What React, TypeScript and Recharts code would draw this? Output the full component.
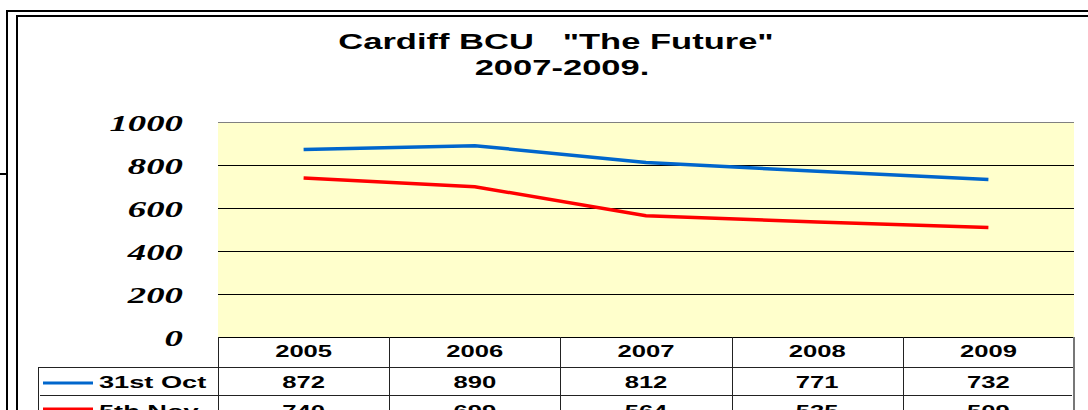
import React from 'react'
import {
  LineChart, Line, XAxis, YAxis, CartesianGrid, ReferenceLine, Customized,
} from 'recharts'

const YEARS = ['2005', '2006', '2007', '2008', '2009']
const OCT_31 = [872, 890, 812, 771, 732]
const NOV_5 = [740, 699, 564, 535, 509]
const Y_TICKS = [0, 200, 400, 600, 800, 1000]

const SERIES = [
  { key: 'oct', name: '31st Oct', color: '#0066CC', values: OCT_31 },
  { key: 'nov', name: '5th Nov', color: '#FF0000', values: NOV_5 },
]

const data = YEARS.map((year, i) => ({ year, oct: OCT_31[i], nov: NOV_5[i] }))

const W = 1088
const H = 410
const PLOT_LEFT = 218
const PLOT_RIGHT = 1074
const PLOT_TOP = 122
const PLOT_BOTTOM = 337
const BAND = (PLOT_RIGHT - PLOT_LEFT) / YEARS.length
const Y_AXIS_W = 60
const ROW1 = 367
const ROW2 = 395
const STRETCH = 1.6

const SANS = '"Liberation Sans", Arial, sans-serif'
const SERIF = '"Liberation Serif", "Times New Roman", serif'

// the source picture is stretched sideways, so all text gets scaleX
function Wide({ x, y, anchor = 'middle', size = 16, family = SANS, italic = false, sx = STRETCH, children }: any) {
  return (
    <text
      transform={`translate(${x} ${y}) scale(${sx} 1)`}
      textAnchor={anchor}
      fontFamily={family}
      fontSize={size}
      fontWeight="bold"
      fontStyle={italic ? 'italic' : 'normal'}
      fill="#000"
      style={{ whiteSpace: 'pre' }}
    >
      {children}
    </text>
  )
}

const ValueTick = (props: any) => {
  const { y, payload } = props
  return (
    <Wide x={PLOT_LEFT - 35} y={y + 9} anchor="end" size={23} family={SERIF} italic>
      {payload.value}
    </Wide>
  )
}

const YearColumn = (props: any) => {
  const { x, payload } = props
  const i = YEARS.indexOf(String(payload.value))
  const left = Math.round(x - BAND / 2)
  const right = Math.round(x + BAND / 2)
  return (
    <g shapeRendering="crispEdges">
      <line x1={left} x2={left} y1={PLOT_BOTTOM} y2={H + 20} stroke="#222" />
      {i === YEARS.length - 1 && (
        <line x1={right} x2={right} y1={PLOT_BOTTOM} y2={H + 20} stroke="#777" strokeWidth={2} />
      )}
      <Wide x={x} y={357}>{payload.value}</Wide>
      {SERIES.map((s, r) => (
        <Wide key={s.key} x={x} y={388 + r * 29}>{s.values[i]}</Wide>
      ))}
    </g>
  )
}

const Frame = () => (
  <g>
    <g shapeRendering="crispEdges">
      <rect x={7} y={11} width={1100} height={430} fill="none" stroke="#000" strokeWidth={1.5} />
      <rect x={17} y={16} width={1100} height={430} fill="none" stroke="#000" strokeWidth={1.5} />
      <line x1={0} x2={7} y1={174} y2={174} stroke="#000" strokeWidth={2} />
      <line x1={38} x2={PLOT_RIGHT} y1={ROW1} y2={ROW1} stroke="#222" />
      <line x1={40} x2={PLOT_RIGHT - 2} y1={ROW2} y2={ROW2} stroke="#222" />
      <line x1={38} x2={38} y1={ROW1} y2={H + 20} stroke="#222" />
    </g>

    <Wide x={556} y={49} size={22} sx={1.57}>{'Cardiff BCU   "The Future"'}</Wide>
    <Wide x={562} y={75} size={22} sx={1.57}>2007-2009.</Wide>

    {SERIES.map((s, r) => (
      <g key={s.key}>
        <line x1={43} x2={93} y1={383 + r * 26} y2={383 + r * 26} stroke={s.color} strokeWidth={3} />
        <Wide x={99} y={388 + r * 29} anchor="start" sx={1.7}>{s.name}</Wide>
      </g>
    ))}
  </g>
)

export default function App() {
  return (
    <div style={{ position: 'absolute', left: 0, top: 0, width: W, height: H, background: '#fff' }}>
      <LineChart
        width={W}
        height={H}
        data={data}
        margin={{ top: PLOT_TOP, right: W - PLOT_RIGHT, left: PLOT_LEFT - Y_AXIS_W, bottom: 0 }}
      >
        <CartesianGrid vertical={false} stroke="#000" fill="#FFFFCC" fillOpacity={1} shapeRendering="crispEdges" />
        <ReferenceLine y={1000} stroke="#808080" shapeRendering="crispEdges" />
        <YAxis
          type="number"
          domain={[0, 1000]}
          ticks={Y_TICKS}
          width={Y_AXIS_W}
          axisLine={false}
          tickLine={false}
          tick={<ValueTick />}
        />
        <XAxis
          dataKey="year"
          height={H - PLOT_BOTTOM}
          interval={0}
          padding={{ left: BAND / 2, right: BAND / 2 }}
          axisLine={{ stroke: '#000', shapeRendering: 'crispEdges' }}
          tickLine={false}
          tick={<YearColumn />}
        />
        {SERIES.map(s => (
          <Line
            key={s.key}
            type="linear"
            dataKey={s.key}
            name={s.name}
            stroke={s.color}
            strokeWidth={3.5}
            dot={false}
            isAnimationActive={false}
          />
        ))}
        <Customized component={<Frame />} />
      </LineChart>
    </div>
  )
}
